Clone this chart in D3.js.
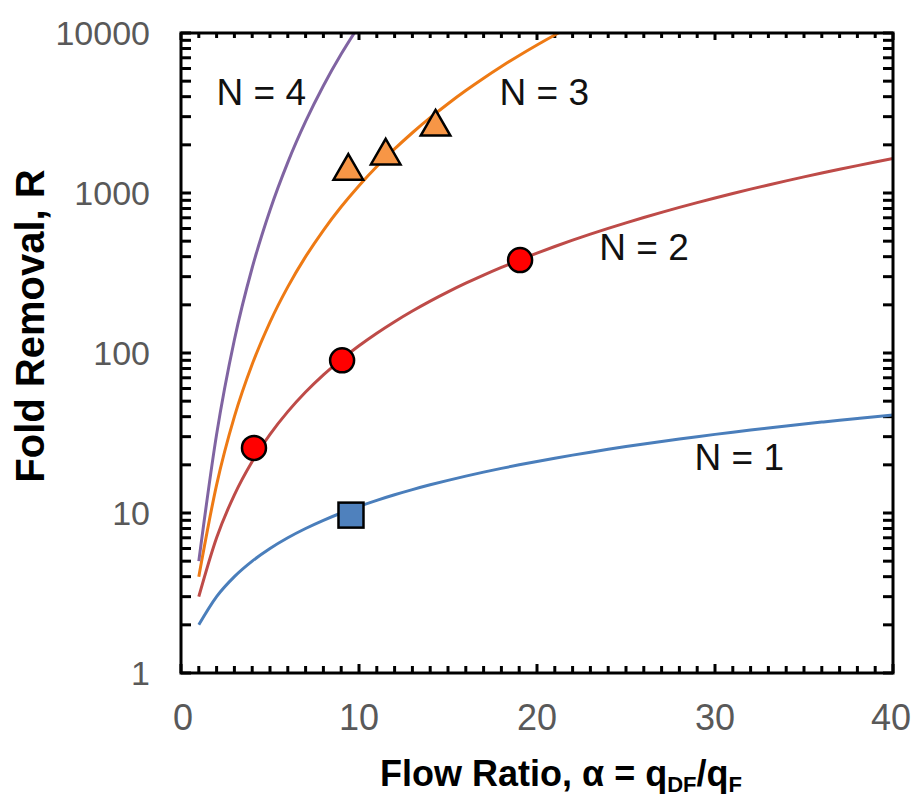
<!DOCTYPE html>
<html>
<head>
<meta charset="utf-8">
<script src="https://cdn.jsdelivr.net/npm/d3@7"></script>
<style>
  html, body { margin: 0; padding: 0; background: #fff; }
  svg { display: block; }
</style>
</head>
<body>
<svg id="chart" width="913" height="799"></svg>
<script>
// Flow ratio values at which each cascade curve is evaluated
const alpha = [1,2,3,4,5,6,7,8,9,10,11,12,13,14,15,16,17,18,19,20,
               21,22,23,24,25,26,27,28,29,30,31,32,33,34,35,36,37,38,39,40];

// Fold removal R for N = 1..4 stages
const removalN1 = [2,3,4,5,6,7,8,9,10,11,12,13,14,15,16,17,18,19,20,21,
                   22,23,24,25,26,27,28,29,30,31,32,33,34,35,36,37,38,39,40,41];
const removalN2 = [3,7,13,21,31,43,57,73,91,111,133,157,183,211,241,273,307,343,381,421,
                   463,507,553,601,651,703,757,813,871,931,993,1057,1123,1191,1261,1333,1407,1483,1561,1641];
const removalN3 = [4,15,40,85,156,259,400,585,820,1111,1464,1885,2380,2955,3616,4369,5220,6175,7240,8421,
                   9724,11155];
const removalN4 = [5,31,121,341,781,1555,2801,4681,7381,11111];

// Measured points
const measuredN1 = [{a: 9.55, r: 9.7}];
const measuredN2 = [{a: 4.1, r: 25.5}, {a: 9.05, r: 90}, {a: 19.05, r: 381}];
const measuredN3 = [{a: 9.4, r: 1430}, {a: 11.5, r: 1780}, {a: 14.3, r: 2700}];

// Curve labels (left edge, baseline)
const curveLabels = [
  {text: "N = 4", a: 2.0, r: 3550},
  {text: "N = 3", a: 17.9, r: 3550},
  {text: "N = 2", a: 23.5, r: 380},
  {text: "N = 1", a: 28.85, r: 18.5}
];

const xTicks = [0, 10, 20, 30, 40];
const yTicks = [1, 10, 100, 1000, 10000];

const svg = d3.select("#chart");
const plotLeft = 181, plotRight = 893, plotTop = 33, plotBottom = 673;

const x = d3.scaleLinear().domain([0, 40]).range([plotLeft, plotRight]);
const y = d3.scaleLog().domain([1, 10000]).range([plotBottom, plotTop]);

svg.append("defs").append("clipPath").attr("id", "plotClip")
  .append("rect").attr("x", plotLeft).attr("y", plotTop)
  .attr("width", plotRight - plotLeft).attr("height", plotBottom - plotTop);

// Minor ticks: every unit on x, 1..9 per decade on y
const xMinor = d3.range(0, 41);
const yMinor = [];
for (let d = 1; d < 10000; d *= 10) for (let k = 1; k < 10; k++) yMinor.push(d * k);
yMinor.push(10000);

const tickG = svg.append("g").attr("stroke", "#000").attr("stroke-width", 3);
// bottom ticks (inward)
tickG.selectAll(".tb").data(xMinor).join("line")
  .attr("x1", d => x(d)).attr("x2", d => x(d))
  .attr("y1", plotBottom).attr("y2", d => plotBottom - (d % 10 === 0 ? 9 : 7));
// top ticks (inward)
tickG.selectAll(".tt").data(xMinor).join("line")
  .attr("x1", d => x(d)).attr("x2", d => x(d))
  .attr("y1", plotTop).attr("y2", d => plotTop + (d % 10 === 0 ? 7 : 5));
// left ticks (inward)
tickG.selectAll(".tl").data(yMinor).join("line")
  .attr("x1", plotLeft).attr("x2", plotLeft + 10)
  .attr("y1", d => y(d)).attr("y2", d => y(d));
// right ticks (inward)
tickG.selectAll(".tr").data(yMinor).join("line")
  .attr("x1", plotRight).attr("x2", plotRight - 10)
  .attr("y1", d => y(d)).attr("y2", d => y(d));

// Curves
const series = [
  {vals: removalN1, color: "#4A7EBB"},
  {vals: removalN2, color: "#BE4B48"},
  {vals: removalN3, color: "#EE7A14"},
  {vals: removalN4, color: "#8064A2"}
];
const line = d3.line().x(d => x(d[0])).y(d => y(d[1])).curve(d3.curveMonotoneX);
const curveG = svg.append("g").attr("clip-path", "url(#plotClip)");
series.forEach(s => {
  const pts = s.vals.map((v, i) => [alpha[i], v]);
  curveG.append("path").datum(pts)
    .attr("d", line)
    .attr("fill", "none")
    .attr("stroke", s.color)
    .attr("stroke-width", 3);
});

// Frame
svg.append("rect").attr("x", plotLeft).attr("y", plotTop)
  .attr("width", plotRight - plotLeft).attr("height", plotBottom - plotTop)
  .attr("fill", "none").attr("stroke", "#000").attr("stroke-width", 3);

// Markers
const mk = svg.append("g").attr("stroke", "#000").attr("stroke-width", 2.5);
mk.selectAll(".sq").data(measuredN1).join("rect")
  .attr("x", d => x(d.a) - 12.5).attr("y", d => y(d.r) - 12.5)
  .attr("width", 25).attr("height", 25).attr("fill", "#4F81BD");
mk.selectAll(".ci").data(measuredN2).join("circle")
  .attr("cx", d => x(d.a)).attr("cy", d => y(d.r)).attr("r", 12)
  .attr("fill", "#FF0000");
const tri = d3.symbol().type(d3.symbolTriangle).size(380);
mk.selectAll(".trg").data(measuredN3).join("path")
  .attr("d", tri)
  .attr("transform", d => `translate(${x(d.a)},${y(d.r) + 3})`)
  .attr("fill", "#F79646");

// Tick labels
const tickFont = "'Liberation Sans', Arial, sans-serif";
svg.append("g").selectAll("text").data(yTicks).join("text")
  .attr("x", 150).attr("y", d => y(d) + 12)
  .attr("text-anchor", "end")
  .attr("font-family", tickFont).attr("font-size", 34)
  .attr("fill", "#595959")
  .text(d => d);
svg.append("g").selectAll("text").data(xTicks).join("text")
  .attr("x", d => x(d) + (d === 0 ? 2 : d === 40 ? -2 : 0)).attr("y", 730)
  .attr("text-anchor", "middle")
  .attr("font-family", tickFont).attr("font-size", 36)
  .attr("fill", "#595959")
  .text(d => d);

// Curve labels
svg.append("g").selectAll("text").data(curveLabels).join("text")
  .attr("x", d => x(d.a)).attr("y", d => y(d.r))
  .attr("font-family", tickFont).attr("font-size", 37)
  .attr("fill", "#111")
  .text(d => d.text);

// Axis titles
svg.append("text")
  .attr("transform", "translate(44,326) rotate(-90)")
  .attr("text-anchor", "middle")
  .attr("font-family", tickFont).attr("font-weight", "bold")
  .attr("font-size", 40).attr("fill", "#000")
  .text("Fold Removal, R");

const xTitle = svg.append("text")
  .attr("x", 561).attr("y", 786)
  .attr("text-anchor", "middle")
  .attr("font-family", tickFont).attr("font-weight", "bold")
  .attr("font-size", 36).attr("fill", "#000");
xTitle.append("tspan").text("Flow Ratio, \u03B1 = q");
xTitle.append("tspan").attr("font-size", 22).attr("dy", 6).text("DF");
xTitle.append("tspan").attr("dy", -6).text("/q");
xTitle.append("tspan").attr("font-size", 22).attr("dy", 6).text("F");
</script>
</body>
</html>
